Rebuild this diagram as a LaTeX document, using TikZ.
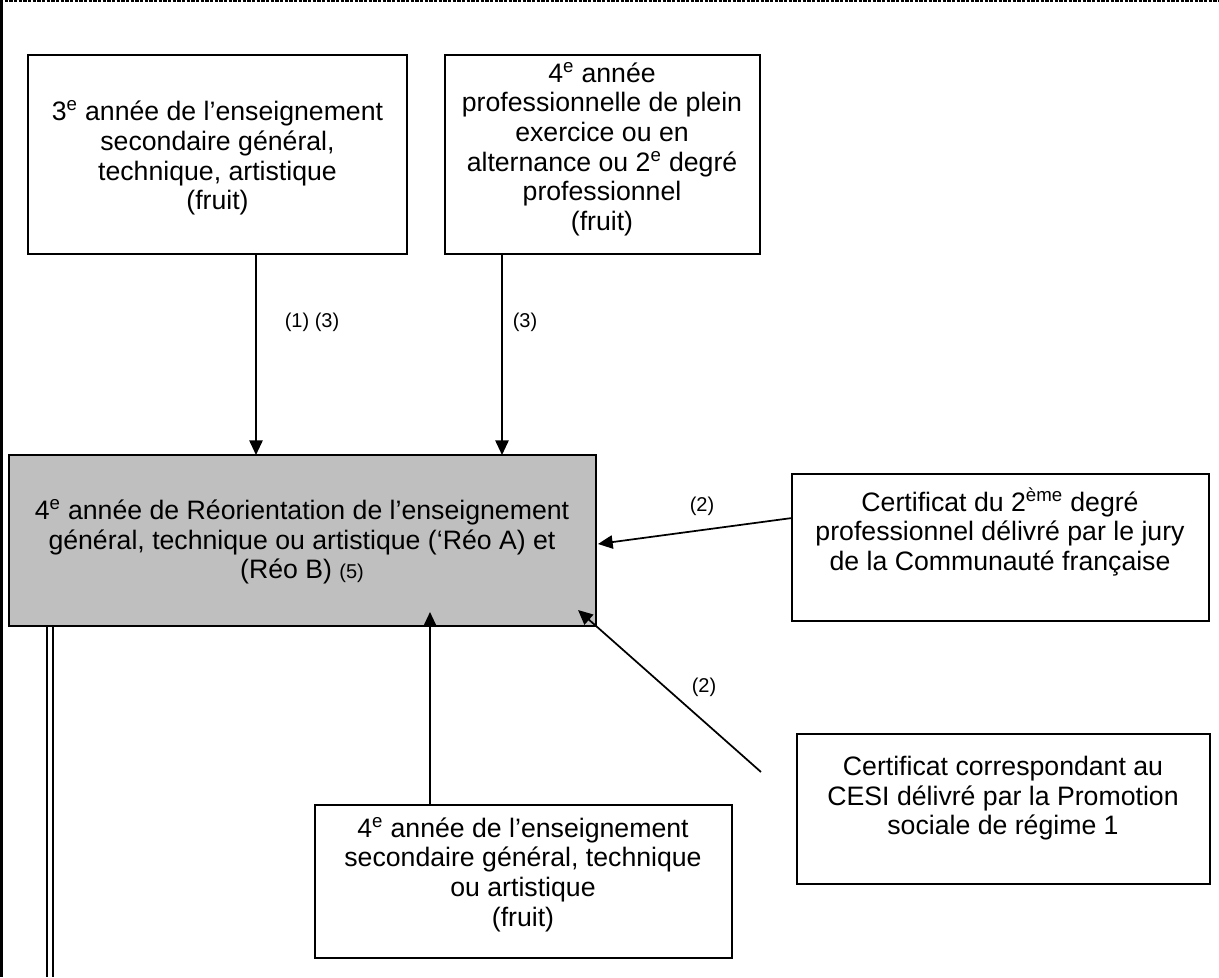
\documentclass[tikz,border=0pt]{standalone}
\usepackage{fontspec}
\setmainfont{Liberation Sans}
\usetikzlibrary{arrows.meta}
\begin{document}
\begin{tikzpicture}[x=0.75pt,y=-0.75pt,
  frame/.style={draw=black,line width=1.3pt,inner sep=0pt,outer sep=0pt},
  txt/.style={align=center,inner sep=0pt,font=\fontsize{20}{22.2}\selectfont},
  lbl/.style={inner sep=0pt,font=\fontsize{15}{17}\selectfont},
  conn/.style={line width=1.3pt,-{Triangle[length=11pt,width=10pt]}},
  plain/.style={line width=1.3pt}]
\useasboundingbox (0,0) rectangle (1219,977);
% page frame
\coordinate (tl) at (0,1.5);
\coordinate (tr) at (1219,1.5);
\coordinate (lt) at (1.5,0);
\coordinate (lb) at (1.5,977);
\draw[line width=1.5pt,dash pattern=on 2.5pt off 1pt] (tl) -- (tr);
\draw[line width=1.5pt] (lt) -- (lb);
% boxes
\node[frame,minimum width={(407-28)*0.75pt},minimum height={(254-55)*0.75pt},anchor=north west] (b1) at (28,55) {};
\node[frame,minimum width={(760-445)*0.75pt},minimum height={(254-55)*0.75pt},anchor=north west] (b2) at (445,55) {};
\node[frame,fill=black!25,minimum width={(596-9)*0.75pt},minimum height={(626-455)*0.75pt},anchor=north west] (g) at (9,455) {};
\node[frame,minimum width={(1209-792)*0.75pt},minimum height={(621-474)*0.75pt},anchor=north west] (r1) at (792,474) {};
\node[frame,minimum width={(1210-797)*0.75pt},minimum height={(884-734)*0.75pt},anchor=north west] (r2) at (797,734) {};
\node[frame,minimum width={(732-315)*0.75pt},minimum height={(958-805)*0.75pt},anchor=north west] (b3) at (315,805) {};
% texts
\node[txt] (t1) at (217.5,158) {3\textsuperscript{e} année de l’enseignement\\secondaire général,\\technique, artistique\\(fruit)};
\node[txt,anchor=north] (t2) at (602,62) {4\textsuperscript{e} année\\professionnelle de plein\\exercice ou en\\alternance ou 2\textsuperscript{e} degré\\professionnel\\(fruit)};
\node[txt] (tg) at (302,542) {4\textsuperscript{e} année de Réorientation de l’enseignement\\général, technique ou artistique (‘Réo A) et\\(Réo B) {\fontsize{15}{17}\selectfont(5)}};
\node[txt,anchor=north] (tr1) at (1000,487) {Certificat du 2\textsuperscript{ème} degré\\professionnel délivré par le jury\\de la Communauté française};
\node[txt,anchor=north] (tr2) at (1003,756) {Certificat correspondant au\\CESI délivré par la Promotion\\sociale de régime 1};
\node[txt,anchor=north] (t3) at (523,817) {4\textsuperscript{e} année de l’enseignement\\secondaire général, technique\\ou artistique\\(fruit)};
% connectors
\coordinate (a1t) at (256,455);
\coordinate (a2t) at (502,455);
\draw[conn] (b1.south -| a1t) -- (a1t);
\draw[conn] (b2.south -| a2t) -- (a2t);
\coordinate (r1a) at (792,518);
\coordinate (ga) at (598,544);
\draw[conn] (r1a) -- (ga);
\coordinate (r2a) at (761,772);
\coordinate (gb) at (578,610);
\draw[conn] (r2a) -- (gb);
\coordinate (gc) at (430,612);
\draw[conn] (b3.north -| gc) -- (gc);
% labels
\node[lbl] (l1) at (312,322) {(1) (3)};
\node[lbl] (l2) at (525,322) {(3)};
\node[lbl] (l3) at (702,506) {(2)};
\node[lbl] (l4) at (704,687) {(2)};
% double line
\coordinate (d1a) at (47,626);
\coordinate (d1b) at (47,977);
\coordinate (d2a) at (53,626);
\coordinate (d2b) at (53,977);
\draw[plain] (d1a) -- (d1b);
\draw[plain] (d2a) -- (d2b);
\end{tikzpicture}
\end{document}
